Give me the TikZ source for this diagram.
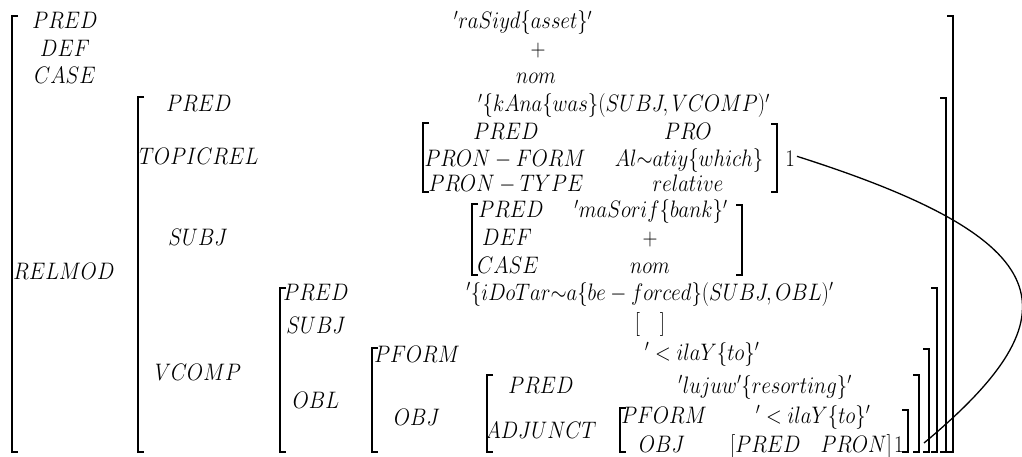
\documentclass[tikz,border=0pt]{standalone}
\usepackage{amsmath}
\usepackage{graphicx}
\tikzset{
  t/.style={anchor=base, inner sep=0pt, font=\fontsize{20}{24}\selectfont},
  br/.style={line width=1.5pt, line join=miter},
  link/.style={line width=1.3pt},
}
\newcommand{\mt}[1]{\scalebox{1}[1.15]{$#1$}}
\newcommand{\BrL}[3]{\draw[br] ({#1+6},#2) -- (#1,#2) -- (#1,#3) -- ({#1+6},#3);}
\newcommand{\BrR}[3]{\draw[br] ({#1-6},#2) -- (#1,#2) -- (#1,#3) -- ({#1-6},#3);}
\begin{document}
\begin{tikzpicture}[x=1pt,y=-1pt]
\useasboundingbox (0,0) rectangle (1022,457);
% brackets
\BrL{12}{16}{452} \BrR{953}{16}{452}
\BrL{138}{97}{452} \BrR{946}{98}{452}
\BrL{423}{123}{192} \BrR{777}{124}{192}
\BrL{472}{204}{275} \BrR{742}{205}{275}
\BrL{280}{288}{452} \BrR{937}{288}{452}
\BrL{372}{348}{452} \BrR{929}{349}{452}
\BrL{487}{375}{452} \BrR{919}{375}{452}
\BrL{620}{408}{452} \BrR{908}{410}{452}
% outer
\node[t] (kpred) at (65,29) {\mt{PRED}};
\node[t] (kdef) at (65,57) {\mt{DEF}};
\node[t] (kcase) at (65,84) {\mt{CASE}};
\node[t] (vpred) at (523,29) {\mt{{}'raSiyd\{asset\}'}};
\node[t] (vdef) at (538,57) {\mt{+}};
\node[t] (vcase) at (536,84) {\mt{nom}};
\node[t] (krel) at (64,279) {\mt{RELMOD}};
% relmod
\node[t] (rpred) at (199,112) {\mt{PRED}};
\node[t] (rpredv) at (624,112) {\mt{{}'\{kAna\{was\}(SUBJ,VCOMP)'}};
\node[t] (rtop) at (199,165) {\mt{TOPICREL}};
\node[t] (tpred) at (506,140) {\mt{PRED}};
\node[t] (tpredv) at (688,140) {\mt{PRO}};
\node[t] (tform) at (505,167) {\mt{PRON-FORM}};
\node[t] (tformv) at (689,167) {\mt{Al\mathord{\sim}atiy\{which\}}};
\node[t] (ttype) at (506,192) {\mt{PRON-TYPE}};
\node[t] (ttypev) at (688,192) {\mt{relative}};
\node[t] (one1) at (790,167) {\mt{1}};
\node[t] (rsubj) at (198,245) {\mt{SUBJ}};
\node[t] (spred) at (511,218) {\mt{PRED}};
\node[t] (spredv) at (651,218) {\mt{{}'maSorif\{bank\}'}};
\node[t] (sdef) at (507,245) {\mt{DEF}};
\node[t] (sdefv) at (650,245) {\mt{+}};
\node[t] (scase) at (508,273) {\mt{CASE}};
\node[t] (scasev) at (650,273) {\mt{nom}};
\node[t] (rvcomp) at (198,380) {\mt{VCOMP}};
% vcomp
\node[t] (vpred2) at (316,300) {\mt{PRED}};
\node[t] (vpredv2) at (650,300) {\mt{{}'\{iDoTar\mathord{\sim}a\{be-forced\}(SUBJ,OBL)'}};
\node[t] (vsubj) at (316,333) {\mt{SUBJ}};
\node[t] (vsubjv) at (650,330) {\mt{[\quad]}};
\node[t] (vobl) at (316,408) {\mt{OBL}};
% obl
\node[t] (opform) at (417,362) {\mt{PFORM}};
\node[t] (opformv) at (702,360) {\mt{{}'<ilaY\{to\}'}};
\node[t] (oobj) at (417,425) {\mt{OBJ}};
% obj
\node[t] (jpred) at (541,393) {\mt{PRED}};
\node[t] (jpredv) at (765,393) {\mt{{}'lujuw'\{resorting\}'}};
\node[t] (jadj) at (541,438) {\mt{ADJUNCT}};
\node[t] (apform) at (664,423) {\mt{PFORM}};
\node[t] (apformv) at (813,423) {\mt{{}'<ilaY\{to\}'}};
\node[t] (aobj) at (662,452) {\mt{OBJ}};
\node[t] (aobjv) at (811,452) {\mt{[PRED\quad PRON]}};
\node[t, anchor=base west] (one2) at ([xshift=2pt]aobjv.base east) {\mt{1}};
% link
\coordinate (linkend) at (924,443);
\draw[link] ([xshift=2pt,yshift=3pt]one1.east) .. controls (1060,240) and (1080,313) .. (linkend);
\end{tikzpicture}
\end{document}
